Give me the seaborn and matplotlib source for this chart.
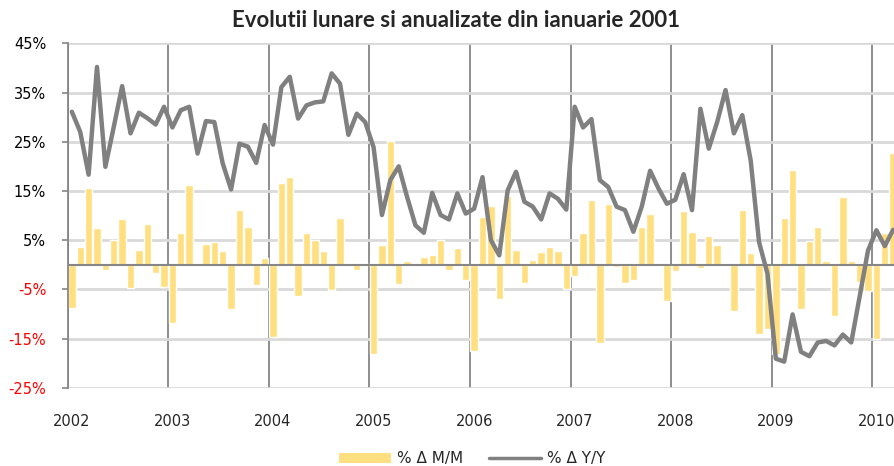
import numpy as np
import pandas as pd
import seaborn as sns
import matplotlib.pyplot as plt
from matplotlib.patches import Patch
from matplotlib.lines import Line2D

# monthly values, Jan 2002 .. Mar 2010
years = list(range(2002, 2011))

mom = [
    -8.8, 3.6, 15.5, 7.4, -1.0, 5.1, 9.2, -4.7, 3.0, 8.2, -1.6, -4.6,      # 2002
    -11.8, 6.5, 16.2, -0.3, 4.2, 4.7, 2.7, -9.0, 11.1, 7.6, -4.2, 1.3,     # 2003
    -14.6, 16.7, 17.9, -6.4, 6.4, 5.1, 2.7, -5.2, 9.4, -0.3, -1.0, 0.1,    # 2004
    -18.1, 4.0, 25.2, -3.9, 0.8, 0.1, 1.5, 1.9, 5.1, -1.0, 3.4, -3.1,      # 2005
    -17.5, 9.8, 11.9, -6.9, 13.9, 2.9, -3.7, 1.0, 2.6, 3.6, 2.7, -4.9,     # 2006
    -2.2, 6.5, 13.2, -15.9, 12.4, -0.5, -3.8, -3.1, 7.7, 10.3, -0.1, -7.4, # 2007
    -1.3, 10.9, 6.7, -0.6, 5.9, 4.1, 0.4, -9.4, 11.1, 2.3, -14.1, -13.0,   # 2008
    -18.1, 9.5, 19.3, -9.1, 4.8, 7.6, 0.8, -10.5, 13.7, 0.7, -3.5, -5.3,   # 2009
    -15.2, 6.5, 22.7,                                                      # 2010
]

yoy = [
    31.1, 27.0, 18.3, 40.2, 19.9, 28.0, 36.3, 26.7, 30.9, 29.8, 28.5, 32.1,
    27.9, 31.4, 32.1, 22.6, 29.2, 29.0, 20.6, 15.3, 24.6, 24.0, 20.7, 28.4,
    24.4, 36.1, 38.2, 29.7, 32.4, 33.0, 33.2, 38.9, 36.8, 26.4, 30.7, 29.0,
    23.9, 10.1, 17.2, 20.0, 13.8, 8.0, 6.5, 14.6, 10.1, 9.2, 14.5, 10.4,
    11.4, 17.8, 5.0, 1.9, 15.1, 18.9, 12.8, 11.8, 9.2, 14.5, 13.4, 11.2,
    32.1, 27.9, 29.6, 17.2, 15.8, 11.8, 11.1, 6.7, 11.8, 19.1, 15.5, 12.4,
    13.2, 18.4, 11.1, 31.7, 23.6, 29.0, 35.5, 26.7, 30.4, 21.2, 4.6, -1.8,
    -19.1, -19.7, -10.1, -17.7, -18.6, -15.8, -15.5, -16.4, -14.2, -15.8, -6.5, 2.9,
    7.0, 3.8, 7.1,
]

y_ticks = [45, 35, 25, 15, 5, -5, -15, -25]

bar_color = "#FFDF7F"
line_color = "#808080"
axis_gray = "#868686"

df = pd.DataFrame({"month": np.arange(len(mom)) + 0.5, "mom": mom, "yoy": yoy})

sns.set_style("white")
plt.rcParams['font.family'] = ['DejaVu Sans']

fig = plt.figure(figsize=(8.95, 4.66), dpi=100)
ax = fig.add_axes([0.0756, 0.168, 0.9244, 0.739])

sns.barplot(data=df, x="month", y="mom", native_scale=True, width=0.88,
            color=bar_color, saturation=1, errorbar=None, ax=ax, zorder=2)
sns.lineplot(data=df, x="month", y="yoy", color=line_color, lw=3.2, ax=ax, zorder=4)

ax.set_xlim(0, 98.72)
ax.set_ylim(-25, 45)

# year boundaries as gridlines, labels on the January slot
ax.set_xticks([12 * k for k in range(len(years))])
ax.set_xticklabels([])
ax.set_xticks([12 * k + 0.5 for k in range(len(years))], minor=True)
ax.set_xticklabels([str(y) for y in years], minor=True, fontsize=10.5)
ax.tick_params(axis='x', which='both', length=0, pad=19)
ax.grid(axis='x', which='major', color=axis_gray, lw=1.3, zorder=1)

ax.set_yticks(y_ticks)
ax.set_yticklabels([f"{v}%" for v in y_ticks], fontsize=10.5)
for lab, v in zip(ax.get_yticklabels(), y_ticks):
    lab.set_color("red" if v < 0 else "black")
ax.tick_params(axis='y', length=4.5, color=axis_gray, width=1.2, pad=11, left=True)
ax.grid(axis='y', color="#D9D9D9", lw=2, zorder=0)
ax.set_axisbelow(True)

ax.axhline(0, color=axis_gray, lw=1.5, zorder=3)

for side in ['top', 'right', 'bottom']:
    ax.spines[side].set_visible(False)
ax.spines['left'].set_color(axis_gray)
ax.spines['left'].set_linewidth(1.3)

ax.set_xlabel("")
ax.set_ylabel("")

fig.text(0.51, 0.956, "Evolutii lunare si anualizate din ianuarie 2001",
         ha='center', va='center', fontsize=16, fontweight='bold',
         family=['Lato', 'DejaVu Sans'])

handles = [Patch(facecolor=bar_color, edgecolor='none'),
           Line2D([], [], color=line_color, lw=2.5)]
fig.legend(handles, ["% Δ M/M", "% Δ Y/Y"], loc='center',
           bbox_to_anchor=(0.528, 1 - 459 / 466), ncol=2, frameon=False,
           fontsize=11, handlelength=3.4, handletextpad=0.4,
           columnspacing=1.7, handleheight=0.65)

plt.savefig("out.png", dpi=100)
